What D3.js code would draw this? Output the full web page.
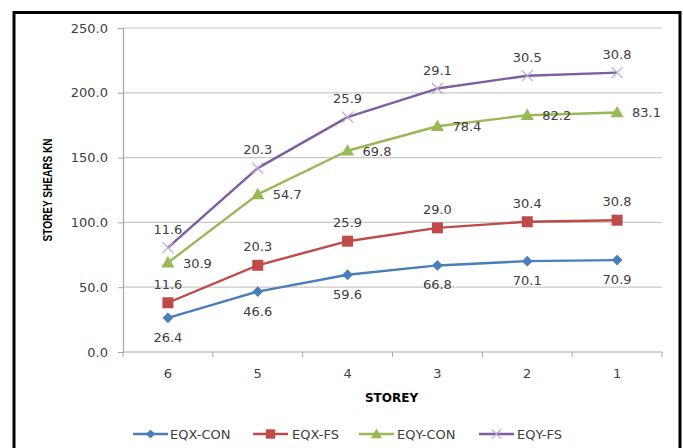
<!DOCTYPE html>
<html>
<head>
<meta charset="utf-8">
<script src="https://cdn.jsdelivr.net/npm/d3@7"></script>
<style>
  html, body { margin: 0; padding: 0; background: #fff; }
  svg { display: block; }
  text { font-family: "DejaVu Sans", Verdana, sans-serif; }
</style>
</head>
<body>
<svg id="chart" width="683" height="448"></svg>
<script>
// Storey shear contributions (kN), stacked from EQX-CON upward
const storeys = ["6", "5", "4", "3", "2", "1"];
const eqxCon = [26.4, 46.6, 59.6, 66.8, 70.1, 70.9];
const eqxFs  = [11.6, 20.3, 25.9, 29.0, 30.4, 30.8];
const eqyCon = [30.9, 54.7, 69.8, 78.4, 82.2, 83.1];
const eqyFs  = [11.6, 20.3, 25.9, 29.1, 30.5, 30.8];
const seriesNames = ["EQX-CON", "EQX-FS", "EQY-CON", "EQY-FS"];
const yTicks = [0, 50, 100, 150, 200, 250];

const seriesValues = [eqxCon, eqxFs, eqyCon, eqyFs];
const colors = ["#4A7EBB", "#BE4B48", "#98B954", "#7D5FA0"];
const markerColors = ["#4A7EBB", "#BE4B48", "#98B954", "#B9A8D6"];
const labelPos = ["below", "above", "right", "above"];

const rows = storeys.map((s, i) => {
  const r = { storey: s };
  seriesNames.forEach((n, k) => { r[n] = seriesValues[k][i]; });
  return r;
});
const stacked = d3.stack().keys(seriesNames)(rows);

const svg = d3.select("#chart");
const plot = { left: 123, right: 662, top: 28, bottom: 352 };

// outer frame
svg.append("path")
  .attr("d", "M14,460 L14,12.5 L680,12.5 L680,460")
  .attr("fill", "none").attr("stroke", "#000").attr("stroke-width", 3);

const x = d3.scaleBand().domain(storeys).range([plot.left, plot.right]);
const y = d3.scaleLinear().domain([0, 250]).range([plot.bottom, plot.top]);

// gridlines
svg.append("g").selectAll("line").data(yTicks.filter(t => t > 0)).join("line")
  .attr("x1", plot.left).attr("x2", plot.right)
  .attr("y1", d => y(d)).attr("y2", d => y(d))
  .attr("stroke", "#C8C8C8").attr("stroke-width", 1.2);

// y axis
const yAxis = svg.append("g").attr("transform", `translate(${plot.left},0)`)
  .call(d3.axisLeft(y).tickValues(yTicks).tickFormat(d3.format(".1f")).tickSizeOuter(0).tickSize(5).tickPadding(10));
yAxis.select(".domain").attr("stroke", "#A6A6A6").attr("stroke-width", 1.2);
yAxis.selectAll(".tick line").attr("stroke", "#A6A6A6");
yAxis.selectAll(".tick text").attr("fill", "#404040").style("font-size", "13px")
  .style("font-family", "'DejaVu Sans', sans-serif");

// x axis with ticks between categories
const xAxisG = svg.append("g").attr("transform", `translate(0,${plot.bottom})`);
xAxisG.append("line").attr("x1", plot.left).attr("x2", plot.right)
  .attr("stroke", "#A6A6A6").attr("stroke-width", 1.2);
const bounds = storeys.map(s => x(s)).concat([x(storeys[storeys.length - 1]) + x.bandwidth()]);
xAxisG.selectAll("line.tk").data(bounds).join("line").attr("class", "tk")
  .attr("x1", d => d).attr("x2", d => d).attr("y1", 0).attr("y2", 5)
  .attr("stroke", "#A6A6A6");
xAxisG.selectAll("text").data(storeys).join("text")
  .attr("x", d => x(d) + x.bandwidth() / 2).attr("y", 21)
  .attr("text-anchor", "middle").attr("dominant-baseline", "central")
  .attr("fill", "#404040").style("font-size", "13px").text(d => d);

// axis titles
svg.append("text").attr("x", 391.5).attr("y", 398)
  .attr("text-anchor", "middle").attr("dominant-baseline", "central")
  .attr("fill", "#000").style("font-size", "12px").style("font-weight", "bold")
  .text("STOREY");
svg.append("text")
  .attr("transform", "translate(47,190) rotate(-90)")
  .attr("text-anchor", "middle").attr("dominant-baseline", "central")
  .attr("textLength", 103).attr("lengthAdjust", "spacingAndGlyphs")
  .style("font-family", "'Liberation Sans Narrow', 'Liberation Sans', sans-serif")
  .style("font-size", "13px").style("font-weight", "bold").attr("fill", "#000")
  .text("STOREY SHEARS KN");

// marker shapes
function drawMarker(g, k, cx, cy, scale) {
  const s = scale || 1;
  if (k === 0) {
    const h = 5.4 * s;
    g.append("path").attr("d", `M${cx},${cy - h}L${cx + h},${cy}L${cx},${cy + h}L${cx - h},${cy}Z`)
      .attr("fill", markerColors[k]);
  } else if (k === 1) {
    const a = 11 * s;
    g.append("rect").attr("x", cx - a / 2).attr("y", cy - a / 2).attr("width", a).attr("height", a)
      .attr("fill", markerColors[k]);
  } else if (k === 2) {
    g.append("path").attr("d", d3.symbol(d3.symbolTriangle, 75 * s * s)())
      .attr("transform", `translate(${cx},${cy + 1})`).attr("fill", markerColors[k]);
  } else {
    const h = 5.5 * s;
    g.append("path").attr("d", `M${cx - h},${cy - h}L${cx + h},${cy + h}M${cx - h},${cy + h}L${cx + h},${cy - h}`)
      .attr("stroke", markerColors[k]).attr("stroke-width", 1.2).attr("fill", "none");
  }
}

const cxOf = d => x(d.data.storey) + x.bandwidth() / 2;
const line = d3.line().x(cxOf).y(d => y(d[1]));

stacked.forEach((layer, k) => {
  const g = svg.append("g");
  g.append("path").datum(layer).attr("d", line)
    .attr("fill", "none").attr("stroke", colors[k]).attr("stroke-width", 2.4)
    .attr("stroke-linejoin", "round");
  layer.forEach(d => drawMarker(g, k, cxOf(d), y(d[1])));
  // value labels show each series' own contribution
  layer.forEach((d, i) => {
    const v = seriesValues[k][i];
    const px = cxOf(d), py = y(d[1]);
    const t = g.append("text").attr("fill", "#404040").style("font-size", "13px")
      .attr("dominant-baseline", "central").text(d3.format(".1f")(v));
    if (labelPos[k] === "below") t.attr("x", px).attr("y", py + 19.5).attr("text-anchor", "middle");
    else if (labelPos[k] === "above") t.attr("x", px).attr("y", py - 18.5).attr("text-anchor", "middle");
    else t.attr("x", px + 15).attr("y", py + 0.5).attr("text-anchor", "start");
  });
});

// legend
const legendItems = [
  { x0: 133, x1: 168, tx: 170 },
  { x0: 253, x1: 288, tx: 292 },
  { x0: 359, x1: 394, tx: 397 },
  { x0: 479, x1: 514, tx: 517 }
];
const ly = 434;
legendItems.forEach((it, k) => {
  const g = svg.append("g");
  g.append("line").attr("x1", it.x0).attr("x2", it.x1).attr("y1", ly).attr("y2", ly)
    .attr("stroke", colors[k]).attr("stroke-width", 2.4);
  drawMarker(g, k, (it.x0 + it.x1) / 2, ly, 0.85);
  g.append("text").attr("x", it.tx).attr("y", ly).attr("dominant-baseline", "central")
    .attr("fill", "#404040").style("font-size", "13px").text(seriesNames[k]);
});
</script>
</body>
</html>
